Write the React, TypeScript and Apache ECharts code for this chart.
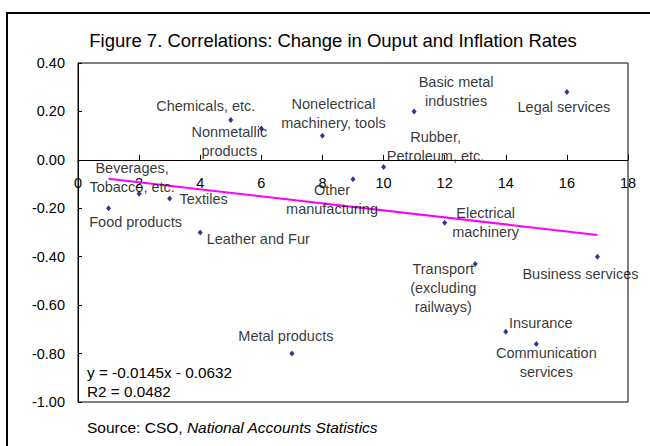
import React, { useEffect, useRef } from "react";
import * as echarts from "echarts";

const industries = [
  "Food products",
  "Beverages,\nTobacco, etc.",
  "Textiles",
  "Leather and Fur",
  "Chemicals, etc.",
  "Nonmetallic\nproducts",
  "Metal products",
  "Nonelectrical\nmachinery, tools",
  "Other\nmanufacturing",
  "Rubber,\nPetroleum, etc.",
  "Basic metal\nindustries",
  "Electrical\nmachinery",
  "Transport\n(excluding\nrailways)",
  "Insurance",
  "Communication\nservices",
  "Legal services",
  "Business services",
];
const outputChange = [1, 2, 3, 4, 5, 6, 7, 8, 9, 10, 11, 12, 13, 14, 15, 16, 17];
const inflationCorr = [-0.2, -0.14, -0.16, -0.3, 0.165, 0.13, -0.8, 0.1, -0.08, -0.03, 0.2, -0.26, -0.43, -0.71, -0.76, 0.28, -0.4];
const trendX = [1, 17];
const trendY = [-0.078, -0.31];
const yTicks = [-1, -0.8, -0.6, -0.4, -0.2, 0, 0.2, 0.4];
const xTicks = [0, 2, 4, 6, 8, 10, 12, 14, 16, 18];

const titleText = "Figure 7. Correlations: Change in Ouput and Inflation Rates";
const equationText = "y = -0.0145x - 0.0632";
const r2Text = "R2 = 0.0482";

// label offsets (pixel) relative to each point, layout only
const labelOffsets: number[][] = [
  [27, 14],
  [-7, -16],
  [34, 0],
  [58, 6],
  [-25, -14],
  [-32, 13],
  [-6, -18],
  [11, -22],
  [-21, 20],
  [52, -21],
  [42, -20],
  [41, 0],
  [-32, 24],
  [35, -9],
  [10, 19],
  [-3, 15],
  [-17, 17],
];

const FONT = "'Liberation Sans', Arial, sans-serif";
const GRID_TOP = 63;
const GRID_BOTTOM = 44;
const CHART_H = 446;

export default function App() {
  const ref = useRef<HTMLDivElement>(null);
  useEffect(() => {
    if (!ref.current) return;
    const chart = echarts.init(ref.current, undefined, { renderer: "svg" });
    const scatterData = industries.map((name, i) => ({
      name,
      value: [outputChange[i], inflationCorr[i]],
      label: { offset: labelOffsets[i] },
    }));
    // place x axis at y = 0 (like Excel's crossing)
    const plotH = CHART_H - GRID_TOP - GRID_BOTTOM;
    const yMin = yTicks[0];
    const yMax = yTicks[yTicks.length - 1];
    const zeroOffset = -((0 - yMin) / (yMax - yMin)) * plotH;
    const option: any = {
      animation: false,
      backgroundColor: "#fff",
      textStyle: { fontFamily: FONT },
      grid: {
        left: 78,
        top: GRID_TOP,
        right: 22,
        bottom: GRID_BOTTOM,
        show: true,
        borderColor: "#000",
        borderWidth: 1,
        backgroundColor: "transparent",
      },
      xAxis: {
        type: "value",
        min: xTicks[0],
        max: xTicks[xTicks.length - 1],
        interval: 2,
        offset: zeroOffset,
        splitLine: { show: false },
        axisLine: { show: true, onZero: false, lineStyle: { color: "#000", width: 1 } },
        axisTick: { show: true, inside: true, length: 5, lineStyle: { color: "#000" } },
        axisLabel: { color: "#000", fontSize: 14.5, fontFamily: FONT, margin: 16 },
      },
      yAxis: {
        type: "value",
        min: yMin,
        max: yMax,
        interval: 0.2,
        splitLine: { show: false },
        axisLine: { show: true, onZero: false, lineStyle: { color: "#000", width: 1 } },
        axisTick: { show: true, inside: true, length: 4, lineStyle: { color: "#000" } },
        axisLabel: {
          color: "#000",
          fontSize: 14.5,
          fontFamily: FONT,
          margin: 13,
          formatter: (v: number) => (Math.abs(v) < 1e-9 ? "0.00" : v.toFixed(2)),
        },
      },
      series: [
        {
          type: "line",
          data: trendX.map((x, i) => [x, trendY[i]]),
          showSymbol: false,
          symbol: "none",
          lineStyle: { color: "#FF00FF", width: 2 },
          z: 2,
          silent: true,
        },
        {
          type: "scatter",
          data: scatterData,
          symbol: "diamond",
          symbolSize: [5, 6],
          itemStyle: { color: "#000080" },
          z: 3,
          label: {
            show: true,
            position: "inside",
            formatter: (p: any) => p.name,
            color: "#000",
            fontSize: 14.5,
            fontFamily: FONT,
            lineHeight: 19,
            align: "center",
            verticalAlign: "middle",
          },
        },
      ],
      graphic: [
        {
          type: "rect",
          shape: { x: 7, y: 13, width: 700, height: 500 },
          style: { fill: "none", stroke: "#000", lineWidth: 2 },
          silent: true,
          z: 0,
        },
        {
          type: "text",
          x: 333,
          y: 40,
          style: {
            text: titleText,
            fontSize: 18.5,
            fontFamily: FONT,
            fill: "#000",
            textAlign: "center",
            textVerticalAlign: "middle",
          },
        },
        {
          type: "text",
          x: 87,
          y: 372,
          style: {
            text: equationText,
            fontSize: 15.3,
            fontFamily: FONT,
            fill: "#000",
            textAlign: "left",
            textVerticalAlign: "middle",
          },
        },
        {
          type: "text",
          x: 87,
          y: 391,
          style: {
            text: r2Text,
            fontSize: 15.3,
            fontFamily: FONT,
            fill: "#000",
            textAlign: "left",
            textVerticalAlign: "middle",
          },
        },
        {
          type: "text",
          x: 87,
          y: 427,
          style: {
            text: "{a|Source: CSO, }{b|National Accounts Statistics}",
            fontSize: 15.5,
            fontFamily: FONT,
            fill: "#000",
            textAlign: "left",
            textVerticalAlign: "middle",
            rich: {
              a: { fontSize: 15.5, fontFamily: FONT, fill: "#000" },
              b: { fontSize: 15.5, fontFamily: FONT, fontStyle: "italic", fill: "#000" },
            },
          },
        },
      ],
    };
    chart.setOption(option);
    return () => chart.dispose();
  }, []);
  return (
    <div
      ref={ref}
      style={{ position: "fixed", left: 0, top: 0, width: 650, height: 446 }}
    />
  );
}
